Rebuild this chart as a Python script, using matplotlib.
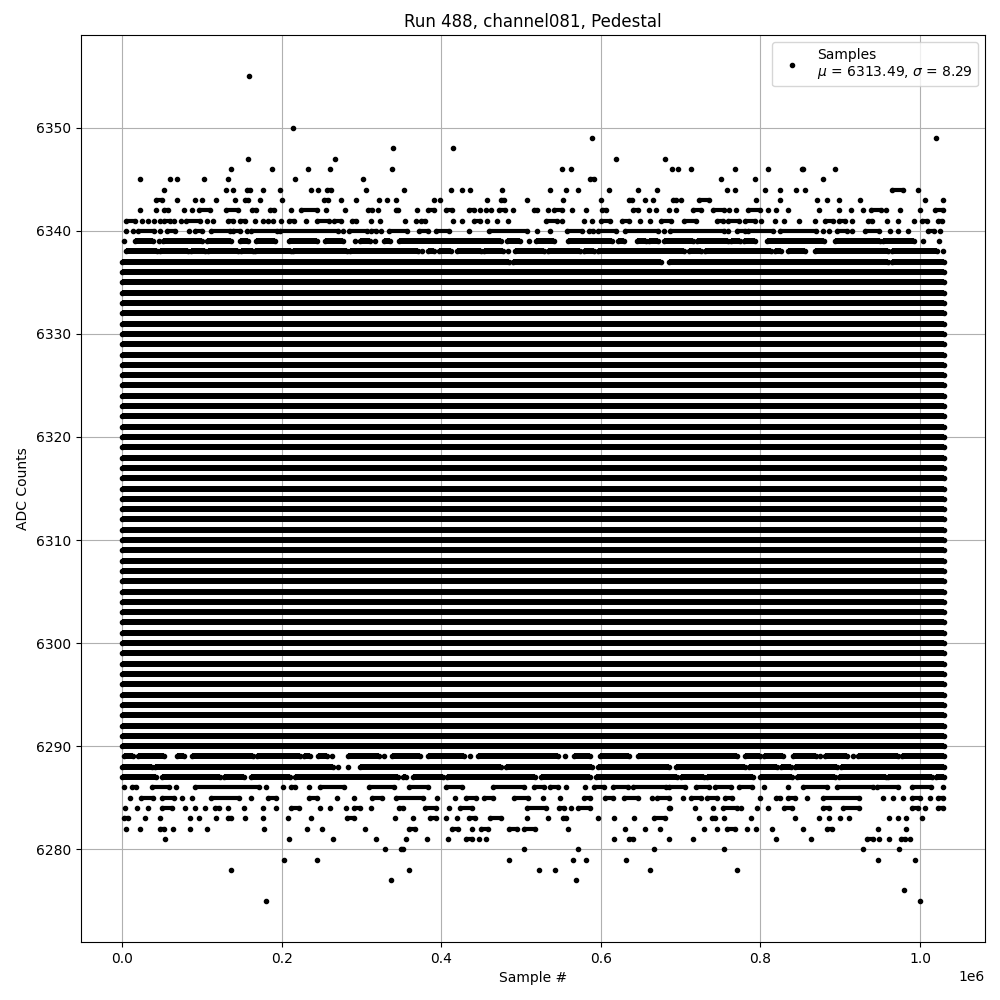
import numpy as np
import matplotlib
matplotlib.use("Agg")
import matplotlib.pyplot as plt

# ---------------- data (sample index in units of 1e6 samples) ----------------
SAMPLE_UNIT = 1e6
first_sample = 0.0
last_sample = 1.030

title = "Run 488, channel081, Pedestal"
mean_adc = 6313.49
sigma_adc = 8.29

# ADC levels that are occupied over the whole run (continuous rows)
solid_levels = [6290, 6291, 6292, 6293, 6294, 6295, 6296, 6297, 6298, 6299, 6300,
                6301, 6302, 6303, 6304, 6305, 6306, 6307, 6308, 6309, 6310,
                6311, 6312, 6313, 6314, 6315, 6316, 6317, 6318, 6319, 6320,
                6321, 6322, 6323, 6324, 6325, 6326, 6327, 6328, 6329, 6330,
                6331, 6332, 6333, 6334, 6335, 6336]

# Levels whose runs are nearly continuous (drawn with full-width runs)
busy_levels = [6337, 6338, 6339, 6287, 6288, 6289]

# Sparse levels: single sample positions or (start, end) runs of samples
adc_6355 = [0.159]
adc_6350 = [0.214]
adc_6349 = [0.589, 1.020]
adc_6348 = [0.340, 0.415]
adc_6347 = [0.158, 0.267, 0.619, 0.681]
adc_6346 = [0.137, 0.188, 0.233, 0.261, 0.338, 0.551, 0.562, 0.689, 0.697, 0.713,
            0.768, 0.810, (0.852, 0.854), 0.893]
adc_6345 = [0.023, 0.060, 0.069, 0.103, 0.133, 0.217, 0.302, (0.587, 0.591), 0.750,
            0.793, 0.878]
adc_6344 = [0.053, 0.130, 0.139, (0.156, 0.160), 0.177, 0.198, 0.237, 0.246,
            (0.257, 0.262), 0.306, 0.353, 0.412, 0.426, 0.436, 0.476, 0.536, 0.556,
            0.572, 0.610, 0.647, 0.671, 0.758, 0.768, 0.806, 0.825, 0.844, 0.856,
            (0.965, 0.979), 0.997]
adc_6343 = [(0.043, 0.050), 0.069, 0.092, 0.100, 0.118, 0.142, (0.154, 0.158), 0.173,
            0.200, (0.253, 0.258), 0.274, 0.293, 0.322, 0.332, 0.343, 0.391, 0.398,
            0.457, (0.475, 0.479), 0.508, 0.552, 0.600, (0.635, 0.639), 0.655, 0.666,
            (0.691, 0.694), 0.701, (0.723, 0.735), 0.794, 0.824, 0.871, 0.884, 0.899,
            0.925, 1.006, 1.029]
adc_6342 = [0.022, 0.043, (0.053, 0.058), 0.077, 0.087, (0.097, 0.110), (0.130, 0.145),
            (0.163, 0.168), (0.186, 0.191), 0.212, (0.224, 0.244), 0.256, 0.279,
            (0.308, 0.313), 0.321, (0.343, 0.346), 0.370, (0.383, 0.391), (0.406, 0.413),
            (0.435, 0.441), 0.449, 0.456, 0.462, (0.472, 0.480), 0.490, (0.516, 0.520),
            0.534, (0.541, 0.551), 0.564, 0.581, (0.601, 0.607), (0.640, 0.646), 0.660,
            0.669, 0.685, 0.694, (0.715, 0.725), (0.740, 0.754), 0.761, 0.769,
            (0.785, 0.799), 0.810, 0.820, 0.834, 0.874, 0.899, 0.913, 0.929,
            (0.938, 0.951), 0.958, 0.975, 1.000, (1.019, 1.029)]
adc_6341 = [(0.005, 0.016), 0.025, 0.032, 0.040, 0.047, (0.053, 0.060), 0.065, 0.074,
            (0.080, 0.098), 0.106, 0.114, (0.133, 0.139), (0.148, 0.154), 0.166, 0.177,
            0.183, 0.189, 0.199, (0.209, 0.216), 0.230, (0.244, 0.259), (0.266, 0.274),
            (0.288, 0.293), 0.312, 0.323, 0.355, 0.368, (0.375, 0.380), 0.415, 0.426,
            (0.441, 0.449), 0.457, 0.470, 0.484, (0.531, 0.545), 0.551, 0.579, 0.589,
            (0.600, 0.612), (0.626, 0.635), 0.649, 0.662, (0.675, 0.688), (0.704, 0.719),
            (0.745, 0.753), (0.760, 0.773), (0.781, 0.793), 0.801, 0.818, 0.829, 0.848,
            0.868, (0.881, 0.891), (0.898, 0.906), 0.915, (0.935, 0.940), 0.959, 0.973,
            0.992, (1.003, 1.009), (1.023, 1.028)]
adc_6340 = [0.005, 0.014, (0.020, 0.040), 0.047, (0.056, 0.066), 0.084, (0.092, 0.100),
            (0.112, 0.135), (0.139, 0.148), 0.156, (0.162, 0.194), (0.198, 0.270), 0.277,
            (0.284, 0.307), (0.312, 0.318), 0.325, (0.335, 0.357), (0.372, 0.383),
            (0.393, 0.410), 0.435, (0.460, 0.508), 0.520, 0.536, (0.557, 0.577),
            (0.585, 0.590), (0.596, 0.619), (0.630, 0.672), 0.679, (0.687, 0.754), 0.759,
            (0.771, 0.781), (0.785, 0.816), (0.824, 0.870), 0.878, 0.886, (0.896, 0.908),
            0.915, (0.931, 0.949), 0.963, 0.973, 0.985, (1.010, 1.018), 1.025]
adc_6339 = [0.002, (0.016, 0.039), 0.046, (0.051, 0.100), (0.106, 0.137), (0.148, 0.158),
            (0.168, 0.192), (0.209, 0.244), (0.254, 0.277), 0.292, (0.298, 0.311), 0.317,
            (0.328, 0.336), (0.347, 0.475), (0.482, 0.499), 0.510, (0.519, 0.541),
            (0.559, 0.614), (0.622, 0.629), (0.645, 0.656), (0.661, 0.672), (0.679, 0.715),
            (0.720, 0.759), (0.763, 0.774), (0.779, 0.793), (0.808, 0.880), (0.894, 0.950),
            (0.954, 0.992), 1.004, 1.024]
adc_6338 = [(0.005, 0.044), (0.048, 0.082), (0.086, 0.104), (0.108, 0.145), (0.149, 0.164),
            (0.167, 0.212), (0.214, 0.282), (0.286, 0.371), 0.376, (0.383, 0.391),
            (0.397, 0.412), (0.420, 0.450), (0.453, 0.478), 0.484, (0.492, 0.529),
            (0.534, 0.574), (0.579, 0.591), (0.597, 0.704), (0.711, 0.726), (0.731, 0.813),
            (0.818, 0.826), (0.834, 0.856), (0.869, 0.960), (0.965, 1.021), 1.029]
adc_6337 = [(0.000, 0.485), (0.490, 0.676), (0.685, 0.960), (0.965, 1.030)]

adc_6289 = [(0.003, 0.014), (0.020, 0.053), (0.069, 0.077), (0.087, 0.164), (0.169, 0.223),
            (0.228, 0.235), (0.245, 0.257), 0.263, (0.283, 0.322), 0.328, (0.338, 0.373),
            (0.383, 0.429), 0.436, (0.446, 0.546), 0.555, (0.566, 0.586), (0.599, 0.635),
            (0.646, 0.771), (0.781, 0.799), (0.804, 0.828), (0.841, 0.870), 0.875,
            (0.881, 0.908), 0.916, (0.922, 0.973), (0.978, 1.030)]
adc_6288 = [(0.000, 0.037), (0.041, 0.264), 0.271, 0.283, (0.298, 0.475), (0.481, 0.589),
            (0.597, 0.685), (0.694, 0.781), (0.786, 0.821), (0.826, 0.838), (0.843, 0.896),
            (0.901, 1.030)]
adc_6287 = [(0.000, 0.043), (0.050, 0.123), (0.128, 0.153), (0.162, 0.211), (0.217, 0.346),
            (0.352, 0.356), (0.365, 0.402), (0.407, 0.517), (0.525, 0.587), (0.594, 0.695),
            (0.700, 0.729), (0.733, 0.791), (0.799, 0.840), (0.846, 0.894), (0.899, 0.958),
            (0.960, 1.015), (1.020, 1.030)]
adc_6286 = [0.002, (0.012, 0.018), (0.038, 0.059), 0.068, (0.092, 0.171), 0.180, 0.202,
            (0.212, 0.217), 0.234, (0.248, 0.278), (0.309, 0.341), (0.360, 0.383),
            (0.406, 0.426), (0.465, 0.504), (0.516, 0.529), (0.536, 0.546), 0.556, 0.580,
            (0.591, 0.604), (0.615, 0.634), (0.640, 0.682), (0.686, 0.706), (0.719, 0.735),
            (0.743, 0.763), (0.773, 0.790), 0.805, 0.834, (0.854, 0.884), (0.896, 0.941),
            (0.946, 0.973), (0.990, 1.014), 1.029]
adc_6285 = [0.010, (0.024, 0.039), (0.050, 0.065), 0.075, 0.088, (0.112, 0.146), 0.162,
            (0.183, 0.193), (0.234, 0.244), 0.269, 0.291, (0.313, 0.326), (0.343, 0.377),
            0.395, 0.417, (0.431, 0.444), (0.454, 0.465), (0.491, 0.509), 0.527, 0.549,
            (0.579, 0.586), (0.605, 0.615), (0.629, 0.647), 0.664, (0.671, 0.685), 0.703,
            (0.713, 0.726), (0.733, 0.746), (0.756, 0.764), 0.799, (0.819, 0.825),
            (0.834, 0.843), 0.859, (0.878, 0.924), 0.954, 0.966, 0.979, (0.990, 1.000),
            1.012, (1.023, 1.029)]
adc_6284 = [0.004, 0.019, 0.032, (0.050, 0.063), 0.079, 0.092, 0.104, (0.116, 0.122), 0.133,
            0.153, 0.177, 0.193, (0.212, 0.222), 0.248, 0.261, 0.281, (0.291, 0.298), 0.312,
            (0.347, 0.352), (0.380, 0.393), 0.410, (0.424, 0.439), (0.507, 0.531),
            (0.547, 0.554), 0.562, (0.572, 0.587), (0.685, 0.687), 0.718, 0.741,
            (0.753, 0.771), 0.776, 0.796, 0.810, (0.829, 0.839), (0.878, 0.886),
            (0.904, 0.923), (0.990, 0.997), 1.006, (1.023, 1.029)]
adc_6283 = [(0.002, 0.008), 0.029, 0.048, 0.085, 0.097, 0.118, (0.133, 0.137), 0.154, 0.177,
            0.208, 0.237, (0.282, 0.291), 0.342, 0.365, (0.386, 0.393), 0.406, 0.420,
            (0.435, 0.442), (0.461, 0.475), 0.507, 0.534, (0.552, 0.556), 0.596, 0.617,
            0.641, (0.667, 0.680), 0.723, (0.739, 0.743), 0.754, 0.788, 0.843, 0.873, 0.886,
            0.900, 0.911, 0.961, 0.973, 0.983, 1.002]
adc_6282 = [0.005, 0.022, (0.048, 0.052), 0.064, 0.085, 0.106, 0.178, 0.232, 0.251, 0.304,
            (0.360, 0.367), (0.413, 0.421), 0.438, (0.450, 0.458), (0.485, 0.495),
            (0.504, 0.517), 0.559, 0.630, 0.655, 0.674, 0.729, 0.745, (0.758, 0.768), 0.783,
            0.794, 0.815, 0.853, (0.883, 0.890), 0.948, 0.983]
adc_6281 = [0.054, 0.209, 0.264, 0.318, 0.356, 0.382, 0.408, (0.431, 0.438), 0.447, 0.456,
            0.616, (0.635, 0.640), 0.686, 0.716, 0.820, 0.864, (0.934, 0.941), 0.949, 0.961,
            (0.976, 0.981), 0.988]
adc_6280 = [0.330, (0.350, 0.352), 0.504, 0.571, 0.667, 0.755, 0.928, 0.974]
adc_6279 = [0.203, 0.244, 0.485, 0.565, 0.581, 0.632, 0.948, 0.994]
adc_6278 = [0.137, 0.360, 0.522, 0.542, 0.662, 0.771]
adc_6277 = [0.337, 0.569]
adc_6276 = [0.980]
adc_6275 = [0.180, 1.000]

sparse_levels = {
    6355: adc_6355, 6350: adc_6350, 6349: adc_6349, 6348: adc_6348, 6347: adc_6347,
    6346: adc_6346, 6345: adc_6345, 6344: adc_6344, 6343: adc_6343, 6342: adc_6342,
    6341: adc_6341, 6340: adc_6340, 6339: adc_6339, 6338: adc_6338, 6337: adc_6337,
    6289: adc_6289, 6288: adc_6288, 6287: adc_6287, 6286: adc_6286, 6285: adc_6285,
    6284: adc_6284, 6283: adc_6283, 6282: adc_6282, 6281: adc_6281, 6280: adc_6280,
    6279: adc_6279, 6278: adc_6278, 6277: adc_6277, 6276: adc_6276, 6275: adc_6275,
}

# ---------------- build drawing arrays ----------------
full_x, full_y = [], []   # continuous runs (full marker width)
bead_x, bead_y = [], []   # chains of separate samples (slightly narrower)
pt_x, pt_y = [], []
for lvl in solid_levels:
    full_x += [first_sample, last_sample, np.nan]
    full_y += [lvl, lvl, np.nan]
    pt_x += [first_sample, last_sample]
    pt_y += [lvl, lvl]
for lvl, items in sparse_levels.items():
    busy = lvl in busy_levels
    for it in items:
        if isinstance(it, tuple):
            if busy:
                full_x += [it[0], it[1], np.nan]
                full_y += [lvl, lvl, np.nan]
            else:
                bead_x += [it[0], it[1], np.nan]
                bead_y += [lvl, lvl, np.nan]
            pt_x += [it[0], it[1]]
            pt_y += [lvl, lvl]
        else:
            pt_x.append(it)
            pt_y.append(lvl)

full_x = np.array(full_x) * SAMPLE_UNIT
bead_x = np.array(bead_x) * SAMPLE_UNIT
pt_x = np.array(pt_x) * SAMPLE_UNIT

# ---------------- plot ----------------
fig = plt.figure(figsize=(10, 10), dpi=100)
ax = fig.add_subplot(111)
fig.subplots_adjust(left=0.081, right=0.985, bottom=0.058, top=0.965)

ax.plot(full_x, full_y, color="black", lw=4.3, solid_capstyle="butt")
ax.plot(bead_x, bead_y, color="black", lw=3.0, solid_capstyle="butt")
ax.plot(pt_x, pt_y, "k.",
        label="Samples\n$\\mu$ = %.2f, $\\sigma$ = %.2f" % (mean_adc, sigma_adc))

ax.set_title(title)
ax.set_xlabel("Sample #")
ax.set_ylabel("ADC Counts")
ax.grid(True)
ax.legend(loc="upper right")

fig.savefig("out.png", dpi=100)
